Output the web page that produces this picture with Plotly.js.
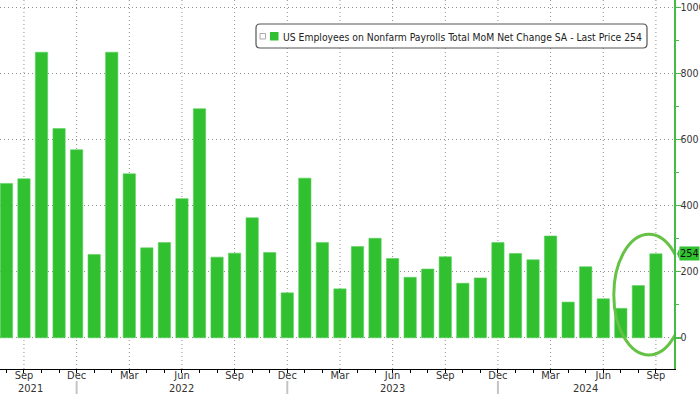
<!DOCTYPE html>
<html>
<head>
<meta charset="utf-8">
<script src="https://cdn.plot.ly/plotly-3.0.1.min.js"></script>
<style>html,body{margin:0;padding:0;background:#fff;}#chart{width:700px;height:394px;}</style>
</head>
<body>
<div id="chart"></div>
<script>
const months = ['2021-08','2021-09','2021-10','2021-11','2021-12',
  '2022-01','2022-02','2022-03','2022-04','2022-05','2022-06','2022-07','2022-08','2022-09','2022-10','2022-11','2022-12',
  '2023-01','2023-02','2023-03','2023-04','2023-05','2023-06','2023-07','2023-08','2023-09','2023-10','2023-11','2023-12',
  '2024-01','2024-02','2024-03','2024-04','2024-05','2024-06','2024-07','2024-08','2024-09'];
const payrolls = [467,481,864,633,569,252,864,496,272,288,421,693,244,256,363,258,136,
  483,288,148,276,301,240,183,208,245,165,181,288,255,236,308,108,215,118,89,158,254];
const monthAbbr = ['Jan','Feb','Mar','Apr','May','Jun','Jul','Aug','Sep','Oct','Nov','Dec'];
const quarterMonths = [3,6,9,12];
const yearLabels = ['2021','2022','2023','2024'];
const yearLabelPos = [1.35, 10, 22, 33];
const yTicks = [0,200,400,600,800,1000];
const seriesName = 'US Employees on Nonfarm Payrolls Total MoM Net Change SA - Last Price 254';

const FONT = '"DejaVu Sans Condensed", "Liberation Sans", Arial, sans-serif';
const GREEN = '#30c030';
const GRID = '#909090';
const XRANGE = [-0.365, 38.03];

// plot-area size in px (700 - r margin, 394 - b margin)
const PW = 674, PH = 369;
const px = v => v / PW;
const py = v => 1 - v / PH;
const xToPaper = i => (i - XRANGE[0]) / (XRANGE[1] - XRANGE[0]);

const xIdx = months.map((m,i)=>i);
const ticktext = [], quarterIdx = [], decIdx = [];
months.forEach((m,i)=>{
  const mo = parseInt(m.slice(5),10);
  if (quarterMonths.includes(mo)) { ticktext.push(monthAbbr[mo-1]); quarterIdx.push(i); }
  else ticktext.push('');
  if (mo === 12) decIdx.push(i);
});
const last = payrolls[payrolls.length-1];
const lastIdx = payrolls.length-1;

const shapes = [];
// quarterly vertical dotted grid
quarterIdx.forEach(i=>shapes.push({type:'line', xref:'x', yref:'paper', x0:i, x1:i, y0:0, y1:1, layer:'below',
  line:{color:GRID, width:1, dash:'1px,3px'}}));
// year separators under the axis labels
decIdx.forEach(i=>shapes.push({type:'line', xref:'paper', yref:'paper', x0:xToPaper(i), x1:xToPaper(i),
  y0:py(381), y1:py(394), line:{color:'#c4c4c4', width:2}}));
// highlight ellipse around last months
shapes.push({type:'circle', xref:'x', yref:'y', x0:lastIdx-2.4, x1:lastIdx+1.6, y0:-52, y1:313,
  line:{color:'#66c244', width:3}});
// price tag arrow
shapes.push({type:'path', xref:'paper', yref:'y', layer:'above',
  path:`M 1.0045 ${last} L 1.0080 ${last+17} L 1.0080 ${last-17} Z`, fillcolor:GREEN, line:{width:0}});
// custom legend box (rounded)
{
  const x0 = px(256), x1 = px(647), y0 = py(48), y1 = py(24);
  const rx = 4/PW, ry = 4/PH;
  shapes.push({type:'path', xref:'paper', yref:'paper', layer:'above', fillcolor:'#ffffff',
    line:{color:'#555', width:1.2},
    path:`M ${x0+rx} ${y1} L ${x1-rx} ${y1} Q ${x1} ${y1} ${x1} ${y1-ry} L ${x1} ${y0+ry} Q ${x1} ${y0} ${x1-rx} ${y0} `+
         `L ${x0+rx} ${y0} Q ${x0} ${y0} ${x0} ${y0+ry} L ${x0} ${y1-ry} Q ${x0} ${y1} ${x0+rx} ${y1} Z`});
  shapes.push({type:'rect', xref:'paper', yref:'paper', layer:'above', x0:px(270), x1:px(278.5), y0:py(40.5), y1:py(32),
    fillcolor:GREEN, line:{width:0}});
  shapes.push({type:'rect', xref:'paper', yref:'paper', layer:'above', x0:px(260), x1:px(265.5), y0:py(39), y1:py(33.5),
    fillcolor:'#fff', line:{color:'#aaa', width:1}});
}

const annotations = yearLabels.map((t,k)=>({text:t, x:yearLabelPos[k], xref:'x', y:py(388), yref:'paper',
  showarrow:false, yanchor:'middle', xanchor:'center', font:{family:FONT, size:11, color:'#333'}}));
annotations.push({text:String(last), xref:'paper', x:1.008, xanchor:'left', yref:'y', y:last, yanchor:'middle',
  showarrow:false, bgcolor:GREEN, borderpad:0, font:{family:FONT, size:11, color:'#111'}});
annotations.push({text:seriesName, xref:'paper', x:px(281), xanchor:'left', yref:'paper', y:py(36.5), yanchor:'middle',
  showarrow:false, font:{family:FONT, size:10.3, color:'#222'}});

const data = [{
  type:'bar', x:xIdx, y:payrolls, name:seriesName, width:0.7,
  marker:{color:GREEN, line:{color:'#5ad05a', width:0.6}},
  showlegend:false, hoverinfo:'y'
}];

const layout = {
  width:700, height:394,
  margin:{l:0, r:26, t:0, b:25, pad:0},
  paper_bgcolor:'#fff', plot_bgcolor:'#fff',
  font:{family:FONT, size:11, color:'#333'},
  showlegend:false,
  xaxis:{type:'linear', range:XRANGE, tickmode:'array', tickvals:xIdx, ticktext:ticktext,
    showgrid:false, showline:true, linecolor:'#000', linewidth:1, ticks:'outside', ticklen:3, tickcolor:'#000',
    ticklabelstandoff:-7,
    tickfont:{family:FONT, size:11, color:'#333'}, zeroline:false, fixedrange:true},
  yaxis:{side:'right', range:[-94.5, 1022], tickmode:'array', tickvals:yTicks,
    showgrid:true, gridcolor:GRID, griddash:'1px,3px', gridwidth:1, zeroline:false,
    showline:true, linecolor:'#44bb44', linewidth:1.5, ticks:'outside', ticklen:5, tickwidth:1.5, tickcolor:'#44bb44',
    ticklabelstandoff:-2,
    tickfont:{family:FONT, size:10.5, color:'#333'}, fixedrange:true,
    minor:{tickmode:'linear', tick0:0, dtick:100, ticks:'outside', ticklen:3, tickcolor:'#44bb44', showgrid:false}},
  shapes:shapes,
  annotations:annotations
};

Plotly.newPlot('chart', data, layout, {displayModeBar:false, staticPlot:true});
</script>
</body>
</html>
